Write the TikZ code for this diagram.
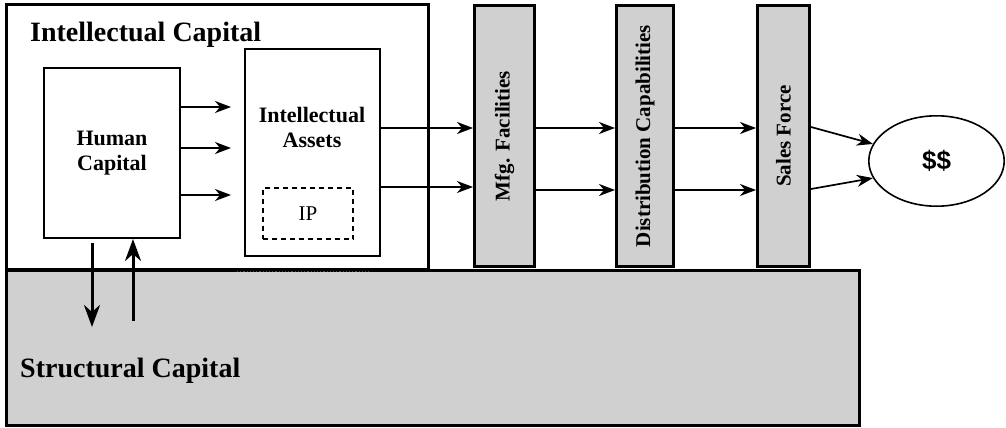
\documentclass[tikz,border=0pt]{standalone}
\usepackage{fontspec}
\setmainfont{Liberation Serif}
\newfontfamily\dollarfont{Liberation Sans}
\usetikzlibrary{arrows.meta,shapes.geometric}
\definecolor{capgray}{RGB}{208,208,208}

\begin{document}
\begin{tikzpicture}[x=1pt,y=-1pt,
        frame/.style={draw,line width=3pt,outer sep=0pt,inner sep=0pt},
        box/.style={draw,line width=1.6pt,fill=white,inner sep=0pt},
        bar/.style={draw,line width=3pt,fill=capgray,inner sep=0pt,minimum height=261pt,
          font=\fontsize{21}{24}\selectfont\bfseries},
        arr/.style={line width=1.7pt,-{Stealth[length=16pt,width=12pt,inset=5pt]}},
        bigarr/.style={line width=3pt,-{Stealth[length=22pt,width=16pt,inset=7pt]}},
        lbl/.style={font=\fontsize{28}{30}\selectfont\bfseries,anchor=base west,inner sep=0pt},
        txt/.style={font=\fontsize{22}{25}\selectfont\bfseries,align=center}]

    \useasboundingbox (0,0) rectangle (1006,428);

    % capital frames
    \node[frame,fill=capgray,minimum width=853pt,minimum height=155pt] (sc) at (433,348) {};
    \node[frame,minimum width=422pt,minimum height=264.5pt] (ic) at (217.5,136.75) {};
    \node[lbl] (iclbl) at (30,42) {Intellectual Capital};
    \node[lbl] (sclbl) at (20,377) {Structural Capital};
    \draw[dotted,line width=1.2pt,black!70] (237,271.5) -- (370,271.5);

    \node[box,txt,minimum width=136.4pt,minimum height=170.4pt] (hc) at (112,153) {Human\\Capital};
    \node[box,minimum width=135.4pt,minimum height=207.4pt] (ia) at (312.5,152.5) {};
    \node[txt] (ialbl) at (312,127) {Intellectual\\Assets};
    \node[draw,dashed,dash pattern=on 5pt off 4pt,line width=1.6pt,minimum width=90.4pt,minimum height=51.4pt,
          font=\fontsize{21}{24}\selectfont] (ip) at (308,213.5) {IP};

    % value chain
    \node[bar,minimum width=60pt] (mfg) at (504.5,136) {\rotatebox{90}{Mfg. Facilities}};
    \node[bar,minimum width=57pt] (dc) at (645,136) {\rotatebox{90}{Distribution Capabilities}};
    \node[bar,minimum width=52pt] (sf) at (783.5,136) {\rotatebox{90}{Sales Force}};
    \node[draw,ellipse,line width=1.6pt,inner sep=0pt,minimum width=135.4pt,minimum height=90.4pt,
          font=\dollarfont\bfseries\fontsize{26}{28}\selectfont] (dol) at (936.5,161) {\$\$};

    \foreach \y in {107,148,195}
        \draw[arr,shorten >=13pt] (hc.east |- 0,\y) -- (ia.west |- 0,\y);
    \draw[arr] (ia.east |- 0,128) -- (mfg.west |- 0,128);
    \draw[arr] (ia.east |- 0,187) -- (mfg.west |- 0,187);
    \foreach \y in {128,190} {
        \draw[arr] (mfg.east |- 0,\y) -- (dc.west |- 0,\y);
        \draw[arr] (dc.east |- 0,\y) -- (sf.west |- 0,\y);
    }
    \draw[arr] (sf.east |- 0,127) -- (dol.165);
    \draw[arr] (sf.east |- 0,189) -- (dol.195);

    \coordinate (hcdown) at (92,327);
    \coordinate (hcup) at (133,321);
    \draw[bigarr,shorten <=4pt] (hc.south -| hcdown) -- (hcdown);
    \draw[bigarr] (hcup) -- (hc.south -| hcup);
\end{tikzpicture}
\end{document}
